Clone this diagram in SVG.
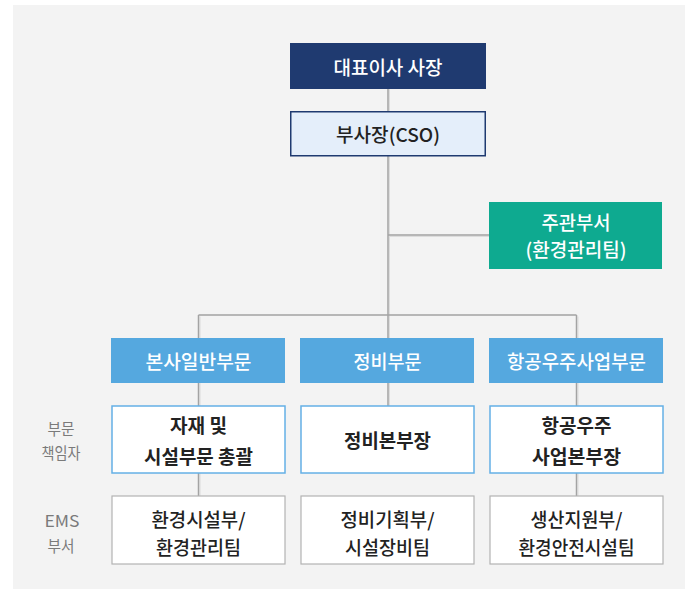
<svg xmlns="http://www.w3.org/2000/svg" width="685" height="589" viewBox="0 0 685 589">
<style>
text{font-family:"Noto Sans CJK KR","Noto Sans",sans-serif;text-anchor:middle;dominant-baseline:central;font-size:19px;font-weight:500}
.w{fill:#ffffff}
.k{fill:#222222}
.b{font-weight:bold}
.lbl{fill:#7a7a7a;font-size:16px;font-weight:normal}
.ln{stroke:#a3a3a3;stroke-width:1.5;fill:none}
.sh{stroke:#dcdcdc;stroke-width:1;fill:none}
.l2{fill:#55a8df}
.l3{fill:#ffffff;stroke:#64b0e6;stroke-width:1.5}
.l4{fill:#ffffff;stroke:#b3b3b3;stroke-width:1.2}
</style>
<rect x="13" y="5" width="672" height="584" fill="#f3f3f3"/>
<g id="connectors">
<path class="sh" d="M389.5 89V338M389.5 236.5H489M200 316.5V338M578 316.5V338M200 383V406M389.5 383V406M578 383V406M200 473V496M578 473V496"/>
<path class="ln" d="M388 89V338M388 235H489M198.5 315H576.5M198.5 315V338M576.5 315V338M198.5 383V406M388 383V406M576.5 383V406M198.5 473V496M576.5 473V496"/>
</g>
<g id="ceo"><rect x="290" y="43" width="196" height="46" fill="#1f3a70"/><text class="w" x="388" y="66" textLength="109" lengthAdjust="spacingAndGlyphs">대표이사 사장</text></g>
<g id="cso"><rect x="290.75" y="111.75" width="194.5" height="44" fill="#e4eefa" stroke="#1f3a70" stroke-width="1.5"/><text class="k" x="388" y="133" textLength="104" lengthAdjust="spacingAndGlyphs">부사장(CSO)</text></g>
<g id="dept"><rect x="489" y="202" width="173" height="67" fill="#0eaa90"/><text class="w" x="576" y="221" textLength="69" lengthAdjust="spacingAndGlyphs">주관부서</text><text class="w" x="576" y="248" textLength="101" lengthAdjust="spacingAndGlyphs">(환경관리팀)</text></g>
<g id="div1"><rect class="l2" x="111" y="338" width="174" height="45"/><text class="w" x="198.5" y="360" textLength="106" lengthAdjust="spacingAndGlyphs">본사일반부문</text></g>
<g id="div2"><rect class="l2" x="300" y="338" width="174" height="45"/><text class="w" x="387.5" y="360" textLength="68" lengthAdjust="spacingAndGlyphs">정비부문</text></g>
<g id="div3"><rect class="l2" x="489" y="338" width="174" height="45"/><text class="w" x="576.5" y="360" textLength="139" lengthAdjust="spacingAndGlyphs">항공우주사업부문</text></g>
<g id="label1"><text class="lbl" x="61" y="428" textLength="27" lengthAdjust="spacingAndGlyphs">부문</text><text class="lbl" x="61" y="452" textLength="39" lengthAdjust="spacingAndGlyphs">책임자</text></g>
<g id="head1"><rect class="l3" x="112" y="406" width="173" height="67"/><text class="k b" x="198.5" y="424" textLength="57" lengthAdjust="spacingAndGlyphs">자재 및</text><text class="k b" x="198.5" y="455" textLength="109" lengthAdjust="spacingAndGlyphs">시설부문 총괄</text></g>
<g id="head2"><rect class="l3" x="301" y="406" width="173" height="67"/><text class="k b" x="387.5" y="439" textLength="87" lengthAdjust="spacingAndGlyphs">정비본부장</text></g>
<g id="head3"><rect class="l3" x="490" y="406" width="173" height="67"/><text class="k b" x="576.5" y="424" textLength="70" lengthAdjust="spacingAndGlyphs">항공우주</text><text class="k b" x="576.5" y="455" textLength="89" lengthAdjust="spacingAndGlyphs">사업본부장</text></g>
<g id="label2"><text class="lbl" x="62" y="520" textLength="35" lengthAdjust="spacingAndGlyphs">EMS</text><text class="lbl" x="61" y="545" textLength="27" lengthAdjust="spacingAndGlyphs">부서</text></g>
<g id="ems1"><rect class="l4" x="112" y="496" width="173" height="68"/><text class="k" x="198.5" y="518" textLength="94" lengthAdjust="spacingAndGlyphs">환경시설부/</text><text class="k" x="198.5" y="546" textLength="85" lengthAdjust="spacingAndGlyphs">환경관리팀</text></g>
<g id="ems2"><rect class="l4" x="301" y="496" width="173" height="68"/><text class="k" x="387.5" y="518" textLength="94" lengthAdjust="spacingAndGlyphs">정비기획부/</text><text class="k" x="387.5" y="546" textLength="85" lengthAdjust="spacingAndGlyphs">시설장비팀</text></g>
<g id="ems3"><rect class="l4" x="490" y="496" width="173" height="68"/><text class="k" x="576.5" y="518" textLength="92" lengthAdjust="spacingAndGlyphs">생산지원부/</text><text class="k" x="576.5" y="546" textLength="116" lengthAdjust="spacingAndGlyphs">환경안전시설팀</text></g>
</svg>
